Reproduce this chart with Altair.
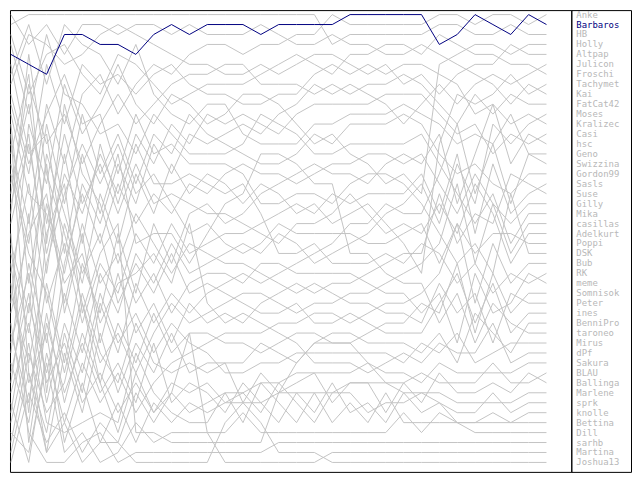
import altair as alt
import pandas as pd

names = ["Anke", "Barbaros", "HB", "Holly", "Altpap", "Julicon", "Froschi", "Tachymet",
         "Kai", "FatCat42", "Moses", "Kralizec", "Casi", "hsc", "Geno", "Swizzina",
         "Gordon99", "Sasls", "Suse", "Gilly", "Mika", "casillas", "Adelkurt", "Poppi",
         "DSK", "Bub", "RK", "meme", "Somnisok", "Peter", "ines", "BenniPro", "taroneo",
         "Mirus", "dPf", "Sakura", "BLAU", "Ballinga", "Marlene", "sprk", "knolle",
         "Bettina", "Dill", "sarhb", "Martina", "Joshua13"]

rounds = list(range(31))

anke = [14, 22, 10, 16, 9, 7, 11, 8, 6, 7, 5, 4, 4, 5, 4, 4, 3, 3, 1, 2, 2, 2, 2, 2, 1, 1, 2, 1, 1, 2, 1]
barbaros = [5, 6, 7, 3, 3, 4, 4, 5, 3, 2, 3, 2, 2, 2, 3, 2, 2, 2, 2, 1, 1, 1, 1, 1, 4, 3, 1, 2, 3, 1, 2]
hb = [2, 1, 1, 1, 1, 1, 1, 1, 1, 1, 1, 1, 1, 1, 1, 1, 1, 1, 4, 3, 3, 3, 3, 3, 2, 2, 3, 3, 2, 3, 3]
holly = [30, 12, 18, 8, 13, 10, 6, 10, 12, 9, 10, 12, 11, 9, 9, 10, 12, 14, 13, 15, 16, 18, 17, 19, 6, 5, 4, 4, 5, 4, 4]
altpap = [8, 3, 4, 6, 5, 3, 2, 3, 4, 5, 6, 6, 7, 7, 6, 7, 6, 5, 5, 6, 7, 6, 8, 7, 9, 7, 6, 6, 4, 5, 5]
julicon = [25, 33, 20, 27, 18, 22, 16, 20, 14, 17, 13, 14, 13, 12, 13, 11, 10, 8, 9, 8, 9, 10, 12, 10, 8, 10, 8, 7, 8, 7, 6]
froschi = [3, 9, 5, 4, 7, 9, 5, 6, 8, 10, 9, 8, 8, 8, 7, 6, 5, 6, 7, 5, 5, 4, 4, 5, 3, 4, 5, 5, 6, 6, 7]
tachymet = [38, 26, 34, 22, 28, 19, 24, 17, 21, 16, 19, 17, 18, 20, 18, 19, 21, 20, 22, 21, 20, 22, 24, 27, 14, 9, 10, 9, 7, 9, 8]
kai = [1, 4, 2, 5, 2, 2, 3, 2, 2, 3, 2, 3, 3, 3, 2, 3, 4, 4, 3, 4, 4, 5, 5, 4, 5, 6, 7, 8, 10, 8, 9]
fatcat42 = [19, 8, 14, 11, 16, 12, 9, 12, 10, 8, 7, 7, 6, 6, 8, 8, 8, 9, 8, 9, 8, 8, 7, 8, 10, 12, 9, 11, 9, 10, 10]
moses = [41, 30, 37, 29, 35, 27, 31, 25, 28, 24, 27, 26, 25, 24, 25, 23, 24, 26, 25, 24, 23, 21, 20, 18, 22, 16, 20, 12, 14, 12, 11]
kralizec = [10, 17, 6, 12, 6, 8, 7, 9, 7, 6, 8, 9, 9, 10, 10, 9, 9, 7, 6, 7, 6, 7, 6, 6, 7, 8, 11, 10, 12, 11, 12]
casi = [22, 14, 25, 17, 21, 15, 19, 13, 16, 12, 14, 11, 12, 11, 12, 13, 11, 10, 10, 10, 10, 9, 9, 9, 11, 13, 12, 15, 13, 14, 13]
hsc = [33, 40, 28, 36, 26, 31, 23, 29, 22, 26, 21, 20, 22, 21, 19, 18, 17, 16, 17, 17, 18, 16, 15, 16, 13, 20, 15, 10, 16, 13, 14]
geno = [7, 2, 8, 2, 4, 5, 8, 4, 9, 11, 12, 10, 10, 13, 14, 14, 14, 12, 12, 11, 11, 11, 10, 11, 12, 14, 13, 14, 11, 15, 15]
swizzina = [45, 37, 43, 33, 39, 30, 35, 28, 32, 29, 31, 29, 28, 27, 28, 27, 26, 25, 24, 22, 22, 20, 21, 21, 17, 12, 19, 14, 20, 15, 16]
gordon99 = [16, 24, 12, 20, 11, 17, 13, 18, 13, 15, 11, 13, 14, 15, 16, 16, 15, 13, 14, 12, 12, 12, 11, 12, 15, 17, 16, 18, 19, 17, 17]
sasls = [27, 18, 30, 24, 32, 26, 29, 23, 26, 22, 25, 24, 23, 23, 22, 21, 20, 21, 19, 20, 19, 19, 19, 17, 21, 15, 23, 16, 21, 19, 18]
suse = [12, 28, 16, 31, 23, 34, 27, 33, 30, 34, 30, 32, 31, 32, 30, 29, 28, 29, 28, 28, 27, 26, 25, 25, 19, 24, 21, 22, 17, 18, 19]
gilly = [35, 21, 39, 26, 19, 24, 18, 22, 19, 21, 18, 19, 17, 16, 17, 17, 18, 17, 16, 16, 15, 15, 16, 15, 18, 21, 17, 20, 22, 20, 20]
mika = [4, 11, 3, 9, 10, 13, 12, 15, 11, 13, 15, 15, 15, 14, 11, 12, 13, 15, 15, 14, 14, 14, 14, 13, 16, 19, 22, 19, 24, 21, 21]
casillas = [44, 35, 41, 38, 30, 36, 33, 37, 33, 30, 32, 31, 30, 29, 29, 30, 31, 30, 30, 29, 29, 28, 27, 26, 24, 18, 26, 20, 25, 22, 22]
adelkurt = [18, 10, 22, 13, 20, 16, 21, 16, 20, 19, 20, 21, 21, 22, 23, 24, 22, 22, 21, 19, 21, 23, 22, 23, 20, 23, 18, 21, 26, 23, 23]
poppi = [29, 36, 26, 19, 14, 18, 14, 19, 17, 20, 23, 22, 24, 25, 24, 22, 23, 23, 23, 23, 24, 24, 23, 22, 26, 22, 25, 23, 23, 24, 24]
dsk = [9, 16, 11, 7, 12, 11, 17, 11, 15, 14, 16, 16, 16, 17, 20, 20, 19, 19, 20, 18, 17, 17, 18, 20, 23, 26, 24, 27, 19, 25, 25]
bub = [40, 46, 35, 42, 36, 40, 37, 41, 38, 36, 35, 34, 33, 33, 33, 32, 32, 31, 31, 32, 31, 30, 30, 29, 27, 22, 30, 24, 28, 26, 26]
rk = [20, 13, 27, 15, 24, 14, 20, 14, 18, 18, 17, 18, 19, 18, 21, 25, 25, 24, 26, 26, 26, 25, 26, 24, 25, 28, 26, 29, 27, 28, 27]
meme = [31, 23, 19, 30, 22, 28, 25, 30, 27, 31, 28, 27, 27, 28, 26, 26, 27, 27, 27, 27, 28, 29, 29, 31, 29, 34, 27, 31, 30, 27, 28]
somnisok = [36, 42, 31, 40, 33, 38, 32, 36, 31, 35, 33, 33, 34, 34, 35, 34, 33, 33, 34, 34, 33, 32, 32, 30, 31, 26, 33, 27, 31, 29, 29]
peter = [15, 7, 24, 10, 17, 20, 26, 21, 24, 27, 24, 25, 26, 26, 27, 28, 29, 28, 29, 30, 30, 31, 31, 32, 28, 31, 29, 34, 29, 30, 30]
ines = [24, 31, 15, 21, 27, 23, 30, 26, 29, 25, 29, 28, 29, 30, 31, 31, 30, 32, 32, 31, 32, 33, 33, 33, 30, 27, 32, 28, 33, 31, 31]
bennipro = [42, 34, 45, 35, 41, 33, 39, 34, 37, 33, 37, 36, 36, 36, 34, 35, 36, 34, 33, 33, 34, 34, 34, 35, 33, 36, 31, 33, 35, 32, 32]
taroneo = [6, 15, 13, 25, 15, 21, 15, 24, 23, 23, 26, 23, 20, 19, 15, 15, 16, 18, 18, 25, 25, 27, 28, 28, 32, 29, 34, 30, 32, 33, 33]
mirus = [37, 29, 40, 32, 37, 29, 34, 31, 35, 32, 34, 35, 37, 37, 36, 36, 35, 35, 35, 35, 35, 35, 36, 34, 35, 33, 36, 35, 34, 34, 34]
dpf = [11, 19, 21, 28, 25, 32, 28, 27, 25, 28, 22, 30, 32, 31, 32, 33, 34, 36, 36, 36, 37, 36, 35, 36, 34, 35, 35, 32, 36, 35, 35]
sakura = [46, 39, 44, 41, 45, 42, 44, 39, 42, 39, 41, 40, 39, 39, 38, 38, 37, 37, 37, 37, 36, 37, 37, 38, 36, 37, 37, 37, 37, 36, 36]
blau = [28, 38, 33, 44, 38, 44, 40, 44, 40, 42, 40, 41, 40, 40, 40, 39, 39, 39, 39, 38, 38, 38, 38, 37, 38, 38, 38, 36, 38, 38, 37]
ballinga = [17, 25, 29, 37, 29, 35, 38, 32, 36, 37, 36, 37, 36, 40, 37, 39, 38, 37, 40, 38, 38, 41, 38, 40, 37, 39, 39, 38, 39, 37, 38]
marlene = [34, 27, 38, 34, 40, 37, 41, 38, 41, 38, 39, 38, 40, 39, 41, 38, 40, 42, 39, 39, 41, 40, 40, 39, 39, 40, 40, 40, 40, 39, 39]
sprk = [23, 44, 32, 39, 34, 39, 36, 40, 34, 40, 38, 39, 41, 38, 40, 42, 39, 41, 38, 41, 40, 42, 39, 41, 40, 41, 41, 39, 41, 40, 40]
knolle = [39, 32, 42, 43, 42, 41, 42, 35, 39, 41, 42, 42, 39, 42, 38, 40, 42, 39, 42, 40, 42, 39, 42, 42, 42, 42, 42, 42, 42, 41, 41]
bettina = [43, 45, 36, 45, 43, 46, 45, 42, 44, 43, 43, 43, 43, 41, 43, 43, 43, 43, 43, 43, 43, 43, 41, 43, 41, 42, 42, 41, 42, 42, 42]
dill = [26, 41, 23, 18, 31, 25, 22, 43, 43, 44, 44, 44, 44, 44, 44, 39, 36, 34, 34, 34, 36, 38, 39, 39, 40, 42, 43, 43, 43, 43, 43]
sarhb = [32, 43, 46, 46, 44, 43, 46, 45, 45, 45, 45, 45, 45, 45, 45, 44, 44, 44, 44, 44, 44, 44, 44, 44, 44, 44, 44, 44, 44, 44, 44]
martina = [21, 5, 17, 23, 30, 38, 43, 37, 41, 39, 33, 43, 46, 46, 46, 46, 46, 46, 45, 45, 45, 45, 45, 45, 45, 45, 45, 45, 45, 45, 45]
joshua13 = [13, 37, 45, 42, 46, 44, 44, 46, 46, 46, 46, 46, 42, 40, 42, 45, 45, 45, 46, 46, 46, 46, 46, 46, 46, 46, 46, 46, 46, 46, 46]

series = [anke, barbaros, hb, holly, altpap, julicon, froschi, tachymet, kai, fatcat42,
          moses, kralizec, casi, hsc, geno, swizzina, gordon99, sasls, suse, gilly, mika,
          casillas, adelkurt, poppi, dsk, bub, rk, meme, somnisok, peter, ines, bennipro,
          taroneo, mirus, dpf, sakura, blau, ballinga, marlene, sprk, knolle, bettina,
          dill, sarhb, martina, joshua13]

highlight = "Barbaros"

rows = []
for name, ranks in zip(names, series):
    for r, v in zip(rounds, ranks):
        rows.append({"name": name, "round": r, "rank": v})
df = pd.DataFrame(rows)
legend_df = pd.DataFrame({"name": names, "rank": [s[-1] for s in series]})

xscale = alt.Scale(domain=[-0.05, 31.39], nice=False, zero=False)
yscale = alt.Scale(domain=[0.55, 46.95], reverse=True, nice=False, zero=False)

base = alt.Chart(df).encode(
    x=alt.X("round:Q", scale=xscale, axis=None),
    y=alt.Y("rank:Q", scale=yscale, axis=None),
    detail="name:N",
    order="round:Q",
)
gray = base.transform_filter(alt.datum.name != highlight).mark_line(color="#c4c4c4", strokeWidth=1)
hi = base.transform_filter(alt.datum.name == highlight).mark_line(color="#000080", strokeWidth=1)
plot = alt.layer(gray, hi).properties(width=564, height=464)

legend = alt.Chart(legend_df).mark_text(
    align="left", baseline="middle", font="DejaVu Sans Mono", fontSize=9
).encode(
    x=alt.value(5),
    y=alt.Y("rank:Q", scale=yscale, axis=None),
    text="name:N",
    color=alt.condition(alt.datum.name == highlight, alt.value("#000080"), alt.value("#b8b8b8")),
).properties(width=60, height=464)

chart = alt.hconcat(plot, legend, spacing=0, bounds="flush").resolve_scale(
    y="independent"
).properties(padding=0).configure_view(
    stroke="black", strokeWidth=1
)

chart.save("out.html", embed_options={"renderer": "svg", "actions": False})
